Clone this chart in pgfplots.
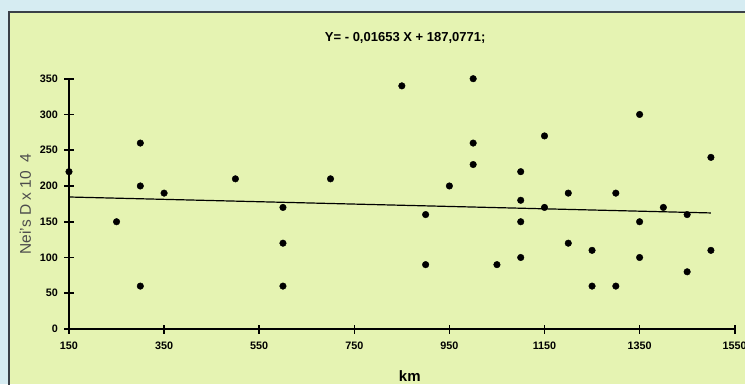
\documentclass[border=0pt]{standalone}
\usepackage{pgfplots}
\pgfplotsset{compat=1.18}
\usepackage{fontspec}
\setmainfont{Liberation Sans}
\definecolor{bgout}{HTML}{D6ECF2}
\definecolor{bgin}{HTML}{E5F3B2}
\definecolor{frame}{HTML}{3A4048}
\begin{document}
\begin{tikzpicture}
\path[use as bounding box] (-69pt,-55pt) rectangle (676pt,329pt);
\fill[bgout] (-69pt,-55pt) rectangle (676pt,329pt);
\fill[bgin] (-60pt,-55pt) rectangle (676pt,317pt);
\draw[frame, line width=1.4pt] (-60pt,-60pt) -- (-60pt,317pt) -- (680pt,317pt);
\begin{axis}[
  at={(0pt,0pt)}, anchor=south west,
  scale only axis,
  width=665.7pt, height=250.3pt,
  xmin=150, xmax=1550, ymin=0, ymax=350,
  axis lines=left,
  axis line style={line width=2.2pt, -},
  xtick={150,350,...,1550},
  ytick={0,50,...,350},
  tick align=center,
  major tick length=9pt,
  tick style={line width=1.6pt, black},
  /pgf/number format/assume math mode=true,
  /pgf/number format/1000 sep={},
  ticklabel style={font=\bfseries\fontsize{10.8}{12}\selectfont},
  xticklabel style={yshift=-5pt},
  yticklabel style={xshift=-3pt},
  xlabel={km},
  xlabel style={font=\bfseries\fontsize{15}{16}\selectfont, at={(rel axis cs:0.512,0)}, yshift=-38pt},
  ylabel={Nei's D x 10\hspace{9pt}4},
  ylabel style={font=\fontsize{15.5}{17}\selectfont, color=black!70, yshift=2pt},
  clip=false,
]
\addplot[only marks, mark=*, mark size=3.3pt, black] coordinates {
(150,220) (250,150) (300,260) (300,200) (300,60) (350,190)
(500,210) (600,170) (600,120) (600,60) (700,210) (850,340)
(900,160) (900,90) (950,200) (1000,350) (1000,260) (1000,230)
(1050,90) (1100,220) (1100,180) (1100,150) (1100,100)
(1150,270) (1150,170) (1200,190) (1200,120) (1250,110) (1250,60)
(1300,190) (1300,60) (1350,300) (1350,150) (1350,100)
(1400,170) (1450,160) (1450,80) (1500,240) (1500,110)
};
\addplot[black, line width=1.2pt] coordinates {(150,184.60) (1500,162.28)};
\node[font=\bfseries\fontsize{13}{14}\selectfont, anchor=center] at (axis cs:857,407) {Y= - 0,01653 X + 187,0771;};
\end{axis}
\end{tikzpicture}
\end{document}
